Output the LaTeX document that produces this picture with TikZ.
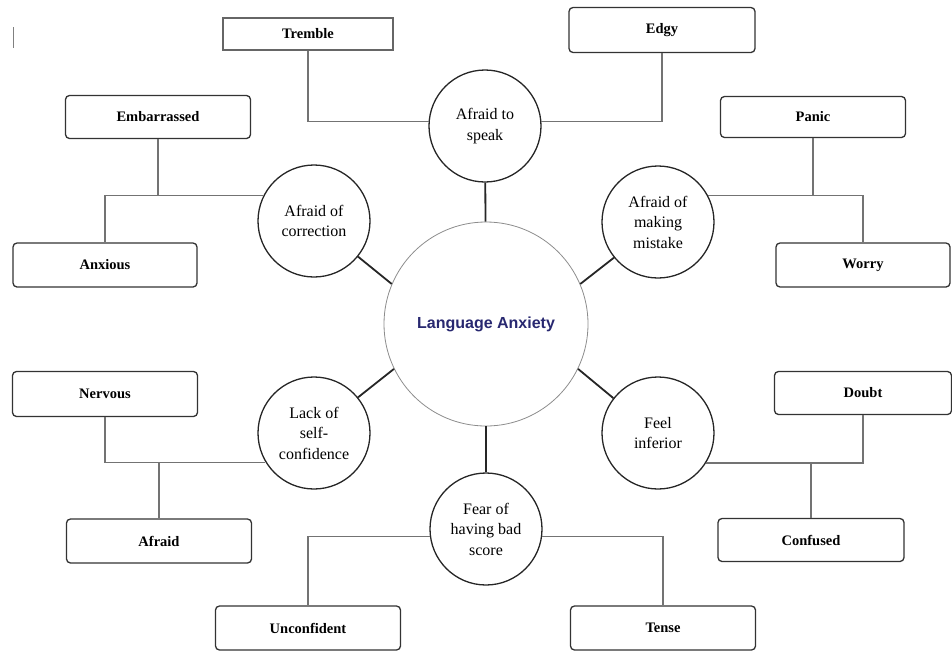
\documentclass[tikz,border=0pt]{standalone}
\usepackage{fontspec}
\setmainfont{Liberation Serif}
\newfontfamily\arialfont{Liberation Sans}
\usepackage{tikz}
\usetikzlibrary{shapes}
\definecolor{navytext}{RGB}{40,40,112}
\tikzset{
  feel/.style={draw=black!80, line width=1.3pt, rounded corners=4pt, minimum width=185pt, minimum height=44pt, inner sep=0pt, font=\fontsize{14.5}{16}\selectfont\bfseries},
  cause/.style={circle, draw=black!85, line width=1.3pt, minimum size=112pt, inner sep=0pt, align=center, font=\fontsize{16}{20.5}\selectfont},
  link/.style={draw=black!55, line width=1.1pt},
  spoke/.style={draw=black!85, line width=1.8pt},
}
\begin{document}
\begin{tikzpicture}[x=1pt, y=-1pt]
      \useasboundingbox (0,0) rectangle (952,654);
      \draw[black!50, line width=1pt] (13,27) -- (13,48);

      % centre
      \node (lang) at (486,324) [circle, draw=black!45, line width=0.8pt, minimum size=204pt, inner sep=0pt, text=navytext, font={\arialfont\fontsize{16}{18}\selectfont\bfseries}] {Language Anxiety};

      % causes
      \node (speak) at (485,126) [cause] {Afraid to\\speak};
      \node (corr) at (314,221) [cause] {Afraid of\\correction};
      \node (mist) at (658,222) [cause] {Afraid of\\making\\mistake};
      \node (lack) at (314,433) [cause] {Lack of\\self-\\confidence};
      \node (inf) at (658,433) [cause] {Feel\\inferior};
      \node (fear) at (486,529) [cause] {Fear of\\having bad\\score};

      \draw[spoke] (speak) -- (lang);
      \draw[spoke] (corr.321) -- (lang.157);
      \draw[spoke] (mist.219) -- (lang.23);
      \draw[spoke] (lack.39) -- (lang.206);
      \draw[spoke] (inf.142) -- (lang.334);
      \draw[spoke] (fear) -- (lang);

      % feelings
      \node (tremble) at (308,34) [feel, rounded corners=0pt, draw=black!60, line width=1.1pt, minimum width=170pt, minimum height=32pt] {Tremble};
      \node (edgy) at (662,30) [feel, minimum width=186pt, minimum height=45pt] {Edgy};
      \node (emb) at (158,117) [feel, minimum height=43pt] {Embarrassed};
      \node (panic) at (813,117) [feel, minimum height=41pt] {Panic};
      \node (anx) at (105,265) [feel, minimum width=184pt] {Anxious};
      \node (worry) at (863,265) [feel, minimum width=174pt] {Worry};
      \node (nerv) at (105,394) [feel, minimum height=45pt] {Nervous};
      \node (doubt) at (863,393) [feel, minimum width=177pt, minimum height=43pt] {Doubt};
      \node (afraid) at (159,541) [feel] {Afraid};
      \node (conf) at (811,540) [feel, minimum width=186pt, minimum height=43pt] {Confused};
      \node (unconf) at (308,628) [feel] {Unconfident};
      \node (tense) at (663,628) [feel] {Tense};

      \draw[link] (tremble.south) |- (speak.175);
      \draw[link] (edgy.south) |- (speak.5);
      \draw[link] (anx.north) |- (corr.153);
      \draw[link] (emb.south) -- (emb.south |- corr.153);
      \draw[link] (worry.north) |- (mist.28);
      \draw[link] (panic.south) -- (panic.south |- mist.28);
      \draw[link] (nerv.south) |- (lack.211);
      \draw[link] (afraid.north) -- (afraid.north |- lack.211);
      \draw[link] (doubt.south) |- (inf.328);
      \draw[link] (conf.north) -- (conf.north |- inf.328);
      \draw[link] (unconf.north) |- (fear.188);
      \draw[link] (tense.north) |- (fear.352);
\end{tikzpicture}
\end{document}
